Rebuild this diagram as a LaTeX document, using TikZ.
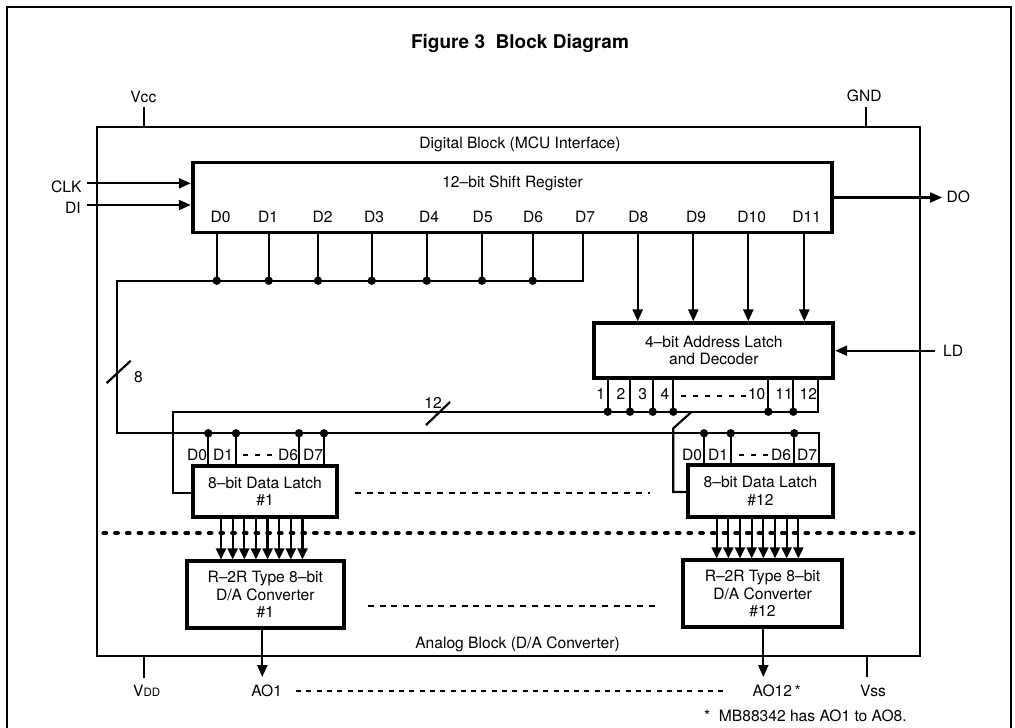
\documentclass[tikz,border=0pt]{standalone}
\usepackage{fontspec}
\setmainfont{TeX Gyre Heros}
\usetikzlibrary{arrows.meta}
\newcommand{\lblfont}{\fontsize{15.6}{17.5}\selectfont}
\newcommand{\ttlfont}{\fontsize{19}{22}\selectfont\bfseries}
\begin{document}
\begin{tikzpicture}[x=1pt,y=-1pt,
  wire/.style={line width=2.2pt},
  arr/.style={-{Triangle[length=12pt,width=10pt]}},
  sarr/.style={-{Triangle[length=11pt,width=10pt]}},
  blk/.style={draw, line width=3.8pt, inner sep=0pt, align=center, font=\lblfont},
  lbl/.style={font=\lblfont, anchor=base, yshift=-5.6pt, inner sep=0pt},
  lblw/.style={lbl, anchor=base west},
  lble/.style={lbl, anchor=base east},
  jdot/.style={fill=black},
  dsh/.style={line width=2.2pt, dash pattern=on 6pt off 5.7pt},
  shortdsh/.style={line width=2.2pt, dash pattern=on 5pt off 7pt},
  heavydot/.style={line width=4.6pt, line cap=round, dash pattern=on 2.2pt off 9.5pt}
]
\useasboundingbox (0,0) rectangle (1015,728);
% outer frame
\draw[line width=2pt] (7.3,730) -- (7.3,7.3) -- (1011,7.3) -- (1011,730);

% title
\node[font=\ttlfont, anchor=base, yshift=-6.8pt, inner sep=0pt] (title) at (520,41.7) {Figure 3\ \ Block Diagram};

% chip outline
\node[draw, line width=2.2pt, minimum width=822.7pt, minimum height=528.4pt, inner sep=0pt, outer sep=0pt] (chip) at (508.65,391.5) {};
\node[lbl] (digblk) at (520,143.3) {Digital Block (MCU Interface)};
\node[lbl] (anablk) at (517.5,643) {Analog Block (D/A Converter)};

% power pins
\node[lbl] (vcc) at (143.3,96.7) {Vcc};
\node[lbl] (gnd) at (864.3,96.2) {GND};
\node[lbl] (vdd) at (146.7,691) {V{\fontsize{11.5}{12}\selectfont DD}};
\node[lbl] (vss) at (873,691) {Vss};
\coordinate (pvcc) at (144,107.3);
\coordinate (pgnd) at (865.7,106.7);
\coordinate (pvdd) at (144,678);
\coordinate (pvss) at (867.3,677);
\draw[wire] (pvcc) -- (pvcc |- chip.north);
\draw[wire] (pgnd) -- (pgnd |- chip.north);
\draw[wire] (pvdd) -- (pvdd |- chip.south);
\draw[wire] (pvss) -- (pvss |- chip.south);

% blocks
\node[blk, minimum width=639pt, minimum height=70pt] (reg) at (512.2,197.5) {};
\node[lbl] (regtxt) at (512.5,182) {12--bit Shift Register};
\node[blk, minimum width=239pt, minimum height=54.4pt] (addr) at (713.8,350.5) {4--bit Address Latch\\and Decoder};
\node[blk, minimum width=144.6pt, minimum height=51.3pt] (lat1) at (265,491.7) {8--bit Data Latch\\\#1};
\node[blk, minimum width=144.4pt, minimum height=52.3pt] (lat12) at (760.5,491.2) {8--bit Data Latch\\\#12};
\node[blk, minimum width=157.3pt, minimum height=66.7pt] (dac1) at (265.3,594.7) {R--2R Type 8--bit\\D/A Converter\\\#1};
\node[blk, minimum width=158.4pt, minimum height=67pt] (dac12) at (762.5,593.8) {R--2R Type 8--bit\\D/A Converter\\\#12};

% register pin labels
\foreach \t/\x in {D0/220.7,D1/268,D2/322.7,D3/374,D4/429,D5/482.7,D6/533,D7/585,D8/638.3,D9/696,D10/751.7,D11/806.7}
  \node[lbl] (r\t) at (\x,217) {\t};

% CLK, DI, DO, LD
\node[lble] (clk) at (81.7,186.7) {CLK};
\node[lble] (di) at (81,207.5) {DI};
\node[lblw] (do) at (946.5,197) {DO};
\node[lblw] (ld) at (943,351) {LD};
\coordinate (clkin) at (87.3,183.3);
\coordinate (diin) at (87.3,205);
\coordinate (doout) at (942,197.5);
\coordinate (ldin) at (935,350.7);
\draw[wire,arr] (clkin) -- (clkin -| reg.west);
\draw[wire,arr] (diin) -- (diin -| reg.west);
\draw[wire,arr] (reg.east |- doout) -- (doout);
\draw[wire,arr] (ldin) -- (ldin -| addr.east);

% upper 8-bit bus from D0..D7
\foreach \i/\x in {0/216.7,1/268.7,2/318,3/371.7,4/426.7,5/482,6/532.7,7/582.7}
  \coordinate (t\i) at (\x,280.7);
\foreach \i in {0,...,6} \draw[wire] (t\i |- reg.south) -- (t\i);
\coordinate (ubL) at (116.7,280.7);
\coordinate (lbL) at (116.7,433.3);
\coordinate (lbR) at (819,433.3);
\draw[wire] (t7 |- reg.south) -- (t7) -- (ubL) -- (lbL) -- (lbR) -- (lbR |- lat12.north);
\foreach \i in {0,...,6} \fill[jdot] (t\i) circle (4.2pt);

% slash 8
\coordinate (s8a) at (106.7,383);
\coordinate (s8b) at (130.7,360.7);
\draw[wire] (s8a) -- (s8b);
\node[lbl] (n8) at (138.5,376.7) {8};

% taps to latch data inputs
\foreach \i/\x in {0/208.3,1/236,2/299,3/324}
  {\coordinate (b\i) at (\x,433.3);
   \draw[wire] (b\i) -- (b\i |- lat1.north);
   \fill[jdot] (b\i) circle (4.2pt);}
\foreach \i/\x in {0/704,1/730.7,2/794.3}
  {\coordinate (c\i) at (\x,433.3);
   \draw[wire] (c\i) -- (c\i |- lat12.north);
   \fill[jdot] (c\i) circle (4.2pt);}
% latch input labels
\node[lbl] (l1d0) at (197,455) {D0};
\node[lbl] (l1d1) at (223,455) {D1};
\node[lbl] (l1d6) at (288,455) {D6};
\node[lbl] (l1d7) at (313,455) {D7};
\node[lbl] (l2d0) at (692,455) {D0};
\node[lbl] (l2d1) at (718,455) {D1};
\node[lbl] (l2d6) at (781,455) {D6};
\node[lbl] (l2d7) at (807,455) {D7};
\coordinate (dl1a) at (243,455); \coordinate (dl1b) at (272,455);
\coordinate (dl2a) at (739,455); \coordinate (dl2b) at (768,455);
\draw[shortdsh] (dl1a) -- (dl1b);
\draw[shortdsh] (dl2a) -- (dl2b);

% D8..D11 to address latch
\foreach \i/\x in {8/637.7,9/693.3,10/748.3,11/804.3}
  {\coordinate (a\i) at (\x,300);
   \draw[wire,arr] (a\i |- reg.south) -- (a\i |- addr.north);}

% address latch outputs, 12-bit bus
\foreach \i/\x in {1/607.7,2/630,3/652.7,4/673.3,10/768.3,11/793.3}
  \coordinate (o\i) at (\x,411.7);
\coordinate (abR) at (817.7,411.7);
\coordinate (abL) at (173.3,411.7);
\coordinate (l1in) at (173.3,492.7);
\foreach \i in {1,2,3,4,10,11} \draw[wire] (o\i |- addr.south) -- (o\i);
\draw[wire] (abR |- addr.south) -- (abR) -- (abL) -- (l1in) -- (l1in -| lat1.west);
\foreach \i in {1,2,3,4,10,11} \fill[jdot] (o\i) circle (4.2pt);
\foreach \t/\x in {1/600.7,2/621,3/642.7,4/665,10/756.7,11/784,12/808.3}
  \node[lbl] (on\t) at (\x,394) {\t};
\coordinate (da) at (681,396); \coordinate (db) at (746,396);
\draw[shortdsh] (da) -- (db);
% branch to latch 12
\coordinate (sb0) at (691.7,411.7);
\coordinate (sb1) at (673.3,428.3);
\coordinate (sb2) at (673.3,492);
\draw[wire] (sb0) -- (sb1) -- (sb2) -- (sb2 -| lat12.west);
% slash 12
\coordinate (s12a) at (426,425);
\coordinate (s12b) at (450,402);
\draw[wire] (s12a) -- (s12b);
\node[lbl] (n12) at (433,402.5) {12};

% separator between digital and analog
\coordinate (sepL) at (103.7,533);
\coordinate (sepR) at (915,533);
\draw[heavydot] (sepL) -- (sepR);

% latch -> DAC arrows
\foreach \i in {0,...,7}
  {\coordinate (p\i) at ({221+11.64*\i},540);
   \draw[wire,sarr] (p\i |- lat1.south) -- (p\i |- dac1.north);
   \coordinate (q\i) at ({716.7+11.66*\i},540);
   \draw[wire,sarr] (q\i |- lat12.south) -- (q\i |- dac12.north);}

% dashed continuation lines
\coordinate (dlatA) at (355,493.3); \coordinate (dlatB) at (650,493.3);
\draw[dsh] (dlatA) -- (dlatB);
\coordinate (ddacA) at (368,606.3); \coordinate (ddacB) at (658,606.3);
\draw[dsh] (ddacA) -- (ddacB);

% analog outputs
\coordinate (ao1) at (262.3,677);
\coordinate (ao12) at (763.3,677);
\draw[wire,arr] (ao1 |- dac1.south) -- (ao1);
\draw[wire,arr] (ao12 |- dac12.south) -- (ao12);
\node[lbl] (tao1) at (266.7,691) {AO1};
\node[lbl] (tao12) at (776.7,691) {AO12\,*};
\coordinate (daoA) at (296,691); \coordinate (daoB) at (724,691);
\draw[line width=2.2pt, dash pattern=on 5pt off 5.3pt] (daoA) -- (daoB);

% footnote
\node[lblw] (foot) at (704,716.3) {*\ \ MB88342 has AO1 to AO8.};
\end{tikzpicture}
\end{document}
